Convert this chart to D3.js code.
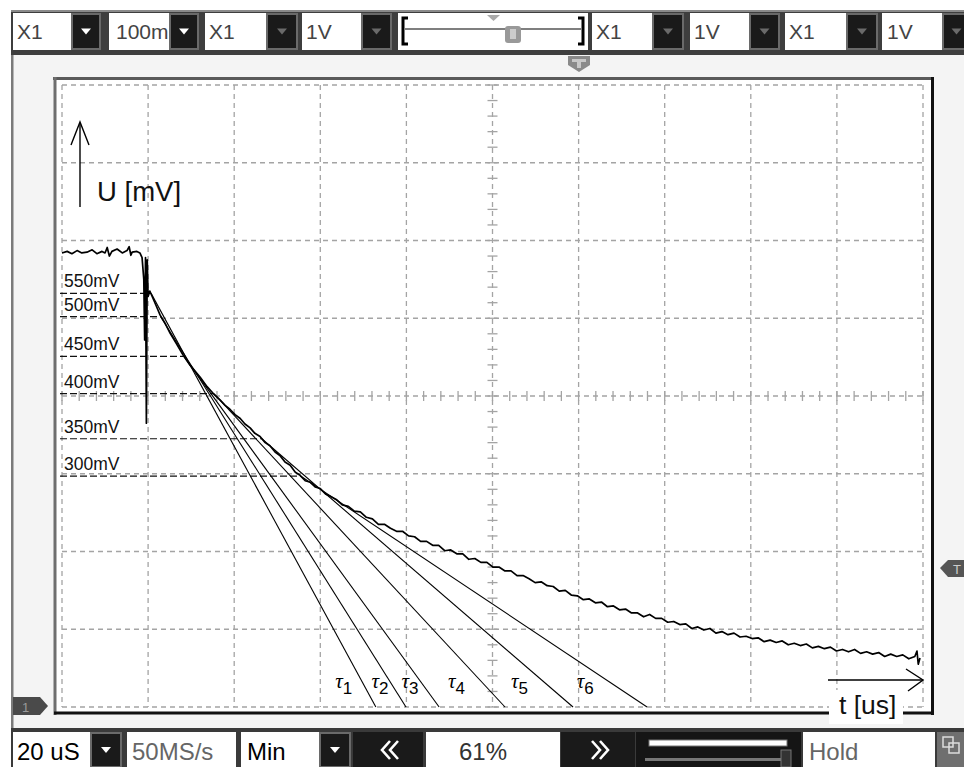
<!DOCTYPE html>
<html><head><meta charset="utf-8">
<script src="https://cdn.jsdelivr.net/npm/d3@7"></script>
<style>html,body{margin:0;padding:0;background:#fff;overflow:hidden}</style>
</head><body><svg id="c" width="964" height="767"></svg>
<script>
// ---------------- data ----------------
const timePerDivUs = 20;          // 20 uS / div
const mvPerDiv = 100;             // 100 mV / div
const xDomainUs = [0, 200];
const yDomainMv = [0, 800];

// captured trace [time us, voltage mV]
const trace = [
 [0,584],[1.2,586],[2.3,583],[3.5,587],[4.6,584],[5.8,585],[7.0,588],[8.1,583],[9.3,586],[10.0,584],
 [10.5,591],[11.0,580],[11.6,586],[12.8,589],[14.0,584],[15.1,587],[15.6,592],[16.0,581],[16.3,585],
 [17.4,586],[18.1,584],
 [18.6,578],[19.0,550],[19.2,472],[19.4,578],[19.6,365],[19.8,575],[20.0,528],[20.4,535],
 [21.1,526],[21.8,517],[22.8,504],[23.9,494],[25.1,481],[26.5,468],[28.1,453],[29.7,440],[30.9,432],
 [32.1,424],[33.7,412],[35.5,401],[36.7,395],[37.9,388],[39.0,383],[40.2,376],[41.4,371],[42.5,364],
 [43.7,359],[44.8,352],[46.0,348],[47.2,340],[48.3,336],[49.5,328],[50.7,323],[51.8,315],[53.0,311],
 [54.2,302],[55.3,298],[56.5,291],[57.7,289],[58.8,283],[60.0,281],[61.2,274],[62.3,271],
 [63.7,267],[65.1,260],[66.5,258],[67.9,252],[69.3,251],[70.7,244],[72.1,242],[73.5,235],[74.9,235],
 [76.3,230],[77.7,226],[79.1,226],[80.5,220],[81.9,219],[83.3,213],[84.7,213],[86.1,208],[87.5,208],
 [88.9,201],[90.3,202],[91.7,197],[93.1,197],[94.5,190],[95.9,191],[97.3,186],[98.7,186],[100.1,180],
 [101.5,180],[102.9,175],[104.3,175],[105.7,169],[107.1,169],[108.5,165],[109.9,160],[111.3,161],
 [112.7,156],[114.1,155],[115.5,149],[116.9,150],[118.3,144],[119.7,143],[121.1,138],[122.5,139],
 [123.9,134],[125.3,135],[126.7,129],[128.1,130],[129.5,125],[130.9,126],[132.3,121],[133.7,121],
 [135.1,116],[136.5,119],[137.9,114],[139.3,114],[140.7,109],[142.1,110],[143.5,106],[144.9,107],
 [146.3,101],[147.7,103],[149.1,99],[150.5,101],[151.9,95],[153.3,97],[154.7,93],[156.1,95],
 [157.5,90],[158.9,91],[160.3,88],[161.7,89],[163.1,84],[164.5,86],[165.9,83],[167.3,85],[168.7,80],
 [170.1,82],[171.5,79],[172.9,81],[174.3,76],[175.7,78],[177.1,75],[178.5,77],[179.9,72],[181.3,74],
 [182.7,71],[184.1,74],[185.5,69],[186.9,71],[188.3,68],[189.7,70],[191.1,65],[192.5,68],[193.9,65],
 [195.3,67],[196.7,62],[198.1,65],[198.6,72],[198.9,55],[199.3,63]
];

// reference levels (label text and drawn level in mV)
const levelLabels = ["550mV","500mV","450mV","400mV","350mV","300mV"];
const levelMv     = [532, 502, 451, 403, 345, 297];
// tangent construction: start time at level crossing and time constant (us)
const tangentStartUs = [20.7, 22.9, 28.3, 35.3, 46.4, 55.4];
const tauUs          = [52.2, 57.0, 59.3, 67.6, 72.3, 80.5];
const tauNames       = ["1","2","3","4","5","6"];

const yAxisLabel = "U [mV]";
const xAxisLabel = "t [us]";

const topBarTexts    = ["X1","100m","X1","1V","X1","1V","X1","1V"];
const bottomBarTexts = ["20 uS","50MS/s","Min","61%","Hold"];

// ---------------- drawing ----------------
const W = 964, H = 767;
const svg = d3.select("#c");
const FONT = "'Liberation Sans', Arial, sans-serif";

const x = d3.scaleLinear().domain(xDomainUs).range([62, 923]);
const y = d3.scaleLinear().domain(yDomainMv).range([707, 85]);

// backgrounds
svg.append("rect").attr("width", W).attr("height", H).attr("fill", "#fff");
svg.append("rect").attr("x", 12).attr("y", 55).attr("width", W - 12).attr("height", 675).attr("fill", "#f4f4f4");
svg.append("rect").attr("x", 11).attr("y", 10).attr("width", 2.5).attr("height", H - 10).attr("fill", "#7a7a7a");

// plot area
svg.append("rect").attr("x", 55).attr("y", 79).attr("width", 877).attr("height", 634).attr("fill", "#fff");

// grid
const grid = svg.append("g").attr("stroke", "#a4a4a4").attr("stroke-width", 1.3)
  .attr("stroke-dasharray", "5,4").attr("fill", "none");
d3.range(xDomainUs[0], xDomainUs[1] + 0.01, timePerDivUs).forEach(t => {
  grid.append("line").attr("x1", x(t)).attr("x2", x(t)).attr("y1", y(yDomainMv[1])).attr("y2", y(0));
});
d3.range(yDomainMv[0], yDomainMv[1] + 0.01, mvPerDiv).forEach(v => {
  grid.append("line").attr("x1", x(xDomainUs[0])).attr("x2", x(xDomainUs[1])).attr("y1", y(v)).attr("y2", y(v));
});
// centre minor ticks
const ticks = svg.append("g").attr("stroke", "#a4a4a4").attr("stroke-width", 1.3);
const cT = (xDomainUs[0] + xDomainUs[1]) / 2, cV = (yDomainMv[0] + yDomainMv[1]) / 2;
d3.range(xDomainUs[0], xDomainUs[1] + 0.01, timePerDivUs / 5).forEach(t => {
  ticks.append("line").attr("x1", x(t)).attr("x2", x(t)).attr("y1", y(cV) - 5).attr("y2", y(cV) + 5);
});
d3.range(yDomainMv[0], yDomainMv[1] + 0.01, mvPerDiv / 5).forEach(v => {
  ticks.append("line").attr("x1", x(cT) - 5).attr("x2", x(cT) + 5).attr("y1", y(v)).attr("y2", y(v));
});

// frame
const fr = svg.append("g").attr("fill", "none");
fr.append("line").attr("x1", 53).attr("x2", 934).attr("y1", 78.5).attr("y2", 78.5).attr("stroke", "#5a5a5a").attr("stroke-width", 3);
fr.append("line").attr("x1", 55).attr("x2", 55).attr("y1", 77).attr("y2", 715).attr("stroke", "#6e6e6e").attr("stroke-width", 3);
fr.append("line").attr("x1", 932.5).attr("x2", 932.5).attr("y1", 77).attr("y2", 715).attr("stroke", "#111").attr("stroke-width", 3);
fr.append("line").attr("x1", 54).attr("x2", 934).attr("y1", 713).attr("y2", 713).attr("stroke", "#111").attr("stroke-width", 3);

// level lines + labels
const lv = svg.append("g");
levelMv.forEach((v, i) => {
  lv.append("line").attr("x1", x(0) - 2).attr("x2", x(tangentStartUs[i])).attr("y1", y(v)).attr("y2", y(v))
    .attr("stroke", "#111").attr("stroke-width", 1.2).attr("stroke-dasharray", "7,3");
  lv.append("text").attr("x", x(0) + 2).attr("y", y(v) - 6).text(levelLabels[i])
    .attr("font-family", FONT).attr("font-size", 17.5).attr("fill", "#111");
});

// trace
svg.append("path").datum(trace)
  .attr("d", d3.line().x(d => x(d[0])).y(d => y(d[1])))
  .attr("fill", "none").attr("stroke", "#000").attr("stroke-width", 1.7).attr("stroke-linejoin", "round");

// tangents
const tg = svg.append("g").attr("stroke", "#000").attr("stroke-width", 1.1);
const lineXAt = (i, v) => x(tangentStartUs[i] + tauUs[i] * (1 - v / levelMv[i]));
tauUs.forEach((tau, i) => {
  tg.append("line").attr("x1", x(tangentStartUs[i])).attr("y1", y(levelMv[i]))
    .attr("x2", x(tangentStartUs[i] + tau)).attr("y2", y(0));
});
// tau labels between neighbouring tangents
const labelMv = 24;
tauNames.forEach((n, i) => {
  const cur = lineXAt(i, labelMv);
  const prev = i === 0 ? cur - 44 : lineXAt(i - 1, labelMv);
  const cx = (cur + prev) / 2;
  const t = svg.append("text").attr("x", cx).attr("y", y(labelMv)).attr("text-anchor", "middle").attr("fill", "#000");
  t.append("tspan").text("τ").attr("font-family", "'Liberation Serif', 'Times New Roman', serif").attr("font-style", "italic").attr("font-size", 21);
  t.append("tspan").text(n).attr("dy", 6).attr("font-family", FONT).attr("font-size", 17);
});

// U axis arrow
const ax = svg.append("g").attr("stroke", "#000").attr("stroke-width", 1.4).attr("fill", "none");
ax.append("line").attr("x1", 80).attr("x2", 80).attr("y1", 123).attr("y2", 207);
ax.append("polyline").attr("points", "71,145 80,122 89,145");
svg.append("text").attr("x", 97).attr("y", 201).text(yAxisLabel).attr("font-family", FONT).attr("font-size", 27.5).attr("fill", "#111");

// t axis arrow + label
svg.append("rect").attr("x", 829).attr("y", 690).attr("width", 74).attr("height", 34).attr("fill", "#fff");
ax.append("line").attr("x1", 828).attr("x2", 923).attr("y1", 680).attr("y2", 680);
ax.append("polyline").attr("points", "906,669 923,680 908,691");
svg.append("text").attr("x", 839).attr("y", 714).text(xAxisLabel).attr("font-family", FONT).attr("font-size", 26.5).attr("fill", "#111");

// markers
svg.append("path").attr("d", "M13,697 L40,697 L48,706 L40,715 L13,715 Z").attr("fill", "#4a4a4a");
svg.append("text").attr("x", 22).attr("y", 712).text("1").attr("font-family", FONT).attr("font-size", 13).attr("fill", "#9a9a9a");
svg.append("path").attr("d", "M964,560 L948,560 L940,568 L948,577 L964,577 Z").attr("fill", "#555");
svg.append("text").attr("x", 953).attr("y", 574).text("T").attr("font-family", FONT).attr("font-size", 13).attr("fill", "#ccc");
svg.append("path").attr("d", "M568,56 L590,56 L590,65 L579,72 L568,65 Z").attr("fill", "#8a8a8a");
svg.append("path").attr("d", "M572,59 L586,59 L586,62 L581,62 L581,68 L577,68 L577,62 L572,62 Z").attr("fill", "#c8c8c8");

// ---------------- toolbars ----------------
function tri(g, cx, cy, col) {
  g.append("path").attr("d", `M${cx - 5},${cy - 3} L${cx + 5},${cy - 3} L${cx},${cy + 3} Z`).attr("fill", col);
}
function button(g, x0, x1, y0, y1, col) {
  g.append("rect").attr("x", x0).attr("y", y0).attr("width", x1 - x0).attr("height", y1 - y0).attr("fill", "#1a1a1a")
    .attr("stroke", "#6a6a6a").attr("stroke-width", 2);
  if (col) tri(g, (x0 + x1) / 2, (y0 + y1) / 2, col);
}
// top bar
const tb = svg.append("g");
tb.append("rect").attr("x", 11).attr("y", 10).attr("width", W - 11).attr("height", 45).attr("fill", "#3e3e3e");
tb.append("rect").attr("x", 11).attr("y", 10).attr("width", W - 11).attr("height", 2).attr("fill", "#8a8a8a");
const topBoxes = [
  [13, 72, 100, "#fff"], [109, 170, 198, "#fff"], [205, 267, 297, "#6a6a6a"], [302, 362, 391, "#6a6a6a"],
  [592, 653, 683, "#6a6a6a"], [690, 750, 779, "#6a6a6a"], [785, 847, 877, "#6a6a6a"], [882, 943, 970, "#6a6a6a"]
];
const textX = [17, 116, 209, 306, 596, 694, 789, 887];
topBoxes.forEach((b, i) => {
  tb.append("rect").attr("x", b[0]).attr("y", 13).attr("width", b[1] - b[0]).attr("height", 37).attr("fill", "#fff");
  tb.append("text").attr("x", textX[i]).attr("y", 39).text(topBarTexts[i]).attr("font-family", FONT).attr("font-size", 21).attr("fill", "#444");
  button(tb, b[1], b[2], 14, 49, b[3]);
});
// position slider
tb.append("rect").attr("x", 398).attr("y", 13).attr("width", 190).attr("height", 37).attr("fill", "#fff");
tb.append("line").attr("x1", 405).attr("x2", 581).attr("y1", 29).attr("y2", 29).attr("stroke", "#555").attr("stroke-width", 1.5);
tb.append("path").attr("d", "M408,18 L403,18 L403,44 L408,44").attr("fill", "none").attr("stroke", "#000").attr("stroke-width", 3);
tb.append("path").attr("d", "M578,18 L583,18 L583,44 L578,44").attr("fill", "none").attr("stroke", "#000").attr("stroke-width", 3);
tb.append("path").attr("d", "M487,15 L500,15 L493.5,21 Z").attr("fill", "#aaa");
tb.append("rect").attr("x", 505).attr("y", 26).attr("width", 16).attr("height", 17).attr("rx", 3).attr("fill", "#999");
tb.append("rect").attr("x", 510).attr("y", 29).attr("width", 6).attr("height", 10).attr("fill", "#ccc");

// bottom bar
const bb = svg.append("g");
bb.append("rect").attr("x", 11).attr("y", 728).attr("width", W - 11).attr("height", 39).attr("fill", "#3a3a3a");
const white = (x0, x1) => bb.append("rect").attr("x", x0).attr("y", 732).attr("width", x1 - x0).attr("height", 35).attr("fill", "#fff");
white(13, 91); white(127, 236); white(241, 320); white(426, 560); white(803, 935);
const bText = (tx, s, col, anchor) => bb.append("text").attr("x", tx).attr("y", 760).text(s)
  .attr("font-family", FONT).attr("font-size", 24).attr("fill", col).attr("text-anchor", anchor || "start");
bText(17, bottomBarTexts[0], "#000");
bText(132, bottomBarTexts[1], "#666");
bText(247, bottomBarTexts[2], "#000");
bText(483, bottomBarTexts[3], "#333", "middle");
bText(809, bottomBarTexts[4], "#666");
button(bb, 91, 121, 733, 767, "#fff");
button(bb, 320, 350, 733, 767, "#fff");
bb.append("rect").attr("x", 353).attr("y", 732).attr("width", 70).attr("height", 35).attr("fill", "#1a1a1a");
bb.append("rect").attr("x", 561).attr("y", 732).attr("width", 74).attr("height", 35).attr("fill", "#1a1a1a");
bb.append("rect").attr("x", 636).attr("y", 732).attr("width", 165).attr("height", 35).attr("fill", "#151515");
const chev = (pts) => bb.append("polyline").attr("points", pts).attr("fill", "none").attr("stroke", "#fff").attr("stroke-width", 2.6);
chev("390,741 382,750 390,759"); chev("398,741 390,750 398,759");
chev("592,741 600,750 592,759"); chev("600,741 608,750 600,759");
bb.append("rect").attr("x", 649).attr("y", 740).attr("width", 138).attr("height", 6).attr("fill", "#fff").attr("stroke", "#777");
bb.append("rect").attr("x", 645).attr("y", 758).attr("width", 136).attr("height", 3).attr("fill", "#777");
bb.append("rect").attr("x", 781).attr("y", 750).attr("width", 10).attr("height", 17).attr("fill", "#333").attr("stroke", "#777");
bb.append("rect").attr("x", 937).attr("y", 732).attr("width", 27).attr("height", 35).attr("fill", "#6f6f6f");
bb.append("rect").attr("x", 943).attr("y", 737).attr("width", 10).attr("height", 10).attr("fill", "none").attr("stroke", "#ddd").attr("stroke-width", 1.5);
bb.append("rect").attr("x", 949).attr("y", 743).attr("width", 10).attr("height", 10).attr("fill", "none").attr("stroke", "#ddd").attr("stroke-width", 1.5);
</script>
</body></html>
